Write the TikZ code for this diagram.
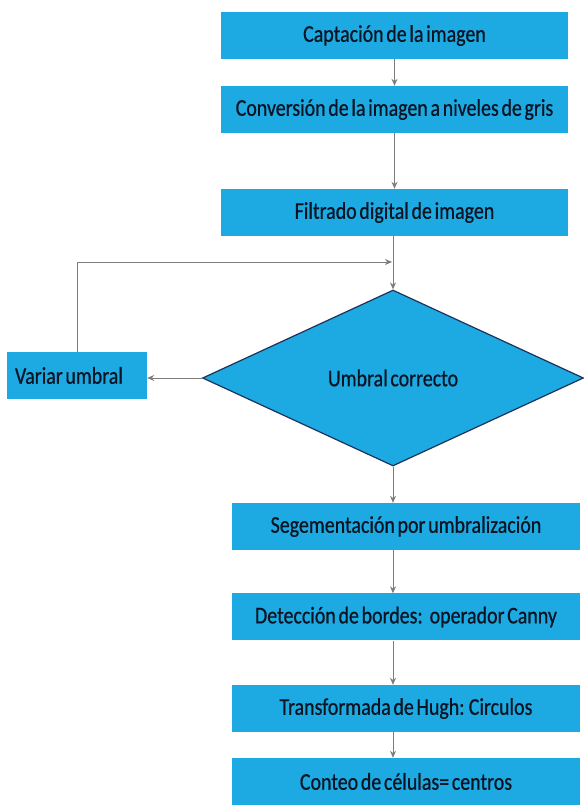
\documentclass[tikz,border=0pt]{standalone}
\usepackage{tikz}
\usetikzlibrary{arrows.meta, shapes, positioning}
\usepackage{xcolor}
\usepackage{fontspec}
\setmainfont[FakeStretch=0.83, FakeBold=0.6, WordSpace=0.6]{Carlito}
\definecolor{processblue}{RGB}{29,169,225}
\definecolor{navyborder}{RGB}{28,50,90}
\definecolor{arrowgray}{RGB}{125,125,125}
\definecolor{textdark}{RGB}{10,20,35}
\tikzset{processbox/.style={rectangle, fill=processblue, draw=none, text=textdark, minimum width=347pt, minimum height=47pt, inner sep=0pt, font=\fontsize{24}{28}\selectfont},
lowprocessbox/.style={processbox, minimum width=348pt},
sidebox/.style={rectangle, fill=processblue, draw=none, text=textdark, text width=124pt, align=flush left, inner xsep=8pt, inner ysep=0pt, minimum height=47pt, font=\fontsize{24}{28}\selectfont},
decisionnode/.style={diamond, fill=processblue, draw=navyborder, line width=1.2pt, text=textdark, minimum width=381pt, minimum height=176pt, inner sep=0pt, font=\fontsize{24}{28}\selectfont},
flowarrow/.style={arrowgray, line width=0.9pt, -{Stealth[length=7pt, width=6pt]}}}

\begin{document}
\begin{tikzpicture}
                \useasboundingbox (0pt, 0pt) rectangle (584pt, 807pt);

                % Boxes
                \node[processbox] (captacion) at (394.5pt, 771.5pt) {Captación de la imagen};
                \node[processbox] (conversion) at (394.5pt, 697.5pt) {Conversión de la imagen a niveles de gris};
                \node[processbox] (filtrado) at (394.5pt, 594.5pt) {Filtrado digital de imagen};
                \node[decisionnode] (umbral) at (393pt, 429pt) {Umbral correcto};
                \node[sidebox] (variar) at (77pt, 431.5pt) {Variar umbral};
                \node[lowprocessbox] (segmentacion) at (406pt, 280.5pt) {Segementación por umbralización};
                \node[lowprocessbox] (deteccion) at (406pt, 190pt) {Detección de bordes:~ operador Canny};
                \node[lowprocessbox] (hugh) at (406pt, 98.5pt) {Transformada de Hugh: Circulos};
                \node[lowprocessbox] (conteo) at (406pt, 25.5pt) {Conteo de células= centros};

                \coordinate (loopjoin) at (392pt, 545pt);

                % Arrows
                \draw[flowarrow] (captacion.south) -- (conversion.north);
                \draw[flowarrow] (conversion.south) -- (filtrado.north);
                \draw[flowarrow] (filtrado.south -| umbral.north) -- (umbral.north);
                \draw[flowarrow] (umbral.west) -- (umbral.west -| variar.east);
                \draw[flowarrow] (variar.north) |- (loopjoin);
                \draw[flowarrow] (umbral.south) -- (umbral.south |- segmentacion.north);
                \draw[flowarrow] (segmentacion.south -| umbral.south) -- (deteccion.north -| umbral.south);
                \draw[flowarrow] (deteccion.south -| umbral.south) -- (hugh.north -| umbral.south);
                \draw[flowarrow] (hugh.south -| umbral.south) -- (conteo.north -| umbral.south);
            \end{tikzpicture}
\end{document}
